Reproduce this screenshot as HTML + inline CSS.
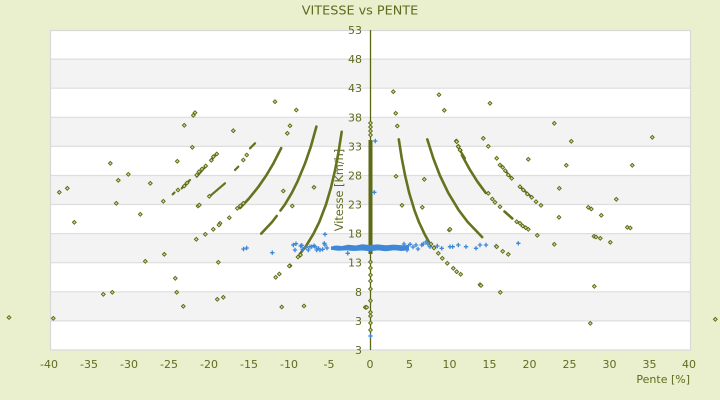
<!DOCTYPE html>
<html><head><meta charset="utf-8"><style>
html,body{margin:0;padding:0;background:#eaf0cd;}
svg{display:block;font-family:"DejaVu Sans","Liberation Sans",sans-serif;}
</style></head><body>
<svg width="720" height="400" viewBox="0 0 720 400" xmlns="http://www.w3.org/2000/svg">
<defs>
<marker id="d" markerUnits="userSpaceOnUse" markerWidth="8" markerHeight="8" refX="4" refY="4" overflow="visible"><path d="M4 2.1L5.9 4 4 5.9 2.1 4Z" fill="#d2d88e" stroke="#5a6614" stroke-width="0.9"/></marker>
<marker id="b" markerUnits="userSpaceOnUse" markerWidth="8" markerHeight="8" refX="4" refY="4" overflow="visible"><path d="M4 1.8V6.2M1.8 4H6.2" stroke="#3f88d8" stroke-width="1.3" fill="none"/></marker>
</defs>
<rect width="720" height="400" fill="#eaf0cd"/>
<text x="360" y="14.5" font-size="12.8" fill="#5c6b1e" text-anchor="middle">VITESSE vs PENTE</text>
<rect x="51" y="30" width="639" height="320" fill="#ffffff"/>
<g fill="#f3f3f3">
<rect x="51" y="59.1" width="639" height="29.1"/>
<rect x="51" y="117.3" width="639" height="29.1"/>
<rect x="51" y="175.5" width="639" height="29"/>
<rect x="51" y="233.6" width="639" height="29.1"/>
<rect x="51" y="291.8" width="639" height="29.1"/>
</g>
<g stroke="#dedede" stroke-width="1.2">
<line x1="51" y1="59.1" x2="690" y2="59.1"/><line x1="51" y1="88.2" x2="690" y2="88.2"/>
<line x1="51" y1="117.3" x2="690" y2="117.3"/><line x1="51" y1="146.4" x2="690" y2="146.4"/>
<line x1="51" y1="175.5" x2="690" y2="175.5"/><line x1="51" y1="204.5" x2="690" y2="204.5"/>
<line x1="51" y1="233.6" x2="690" y2="233.6"/><line x1="51" y1="262.7" x2="690" y2="262.7"/>
<line x1="51" y1="291.8" x2="690" y2="291.8"/><line x1="51" y1="320.9" x2="690" y2="320.9"/>
</g>
<rect x="50.5" y="30.5" width="640" height="319.5" fill="none" stroke="#d8d8d8" stroke-width="1.2"/>

<g font-size="11" fill="#5c6b1e" text-anchor="end">
<text x="362" y="34">53</text><text x="362" y="63.1">48</text><text x="362" y="92.2">43</text>
<text x="362" y="121.3">38</text><text x="362" y="150.4">33</text><text x="362" y="179.5">28</text>
<text x="362" y="208.5">23</text><text x="362" y="237.6">18</text><text x="362" y="266.7">13</text>
<text x="362" y="295.8">8</text><text x="362" y="324.9">3</text><text x="362" y="354">3</text>
</g>
<text transform="translate(343,190) rotate(-90)" font-size="11.3" fill="#5c6b1e" text-anchor="middle">Vitesse [Km/h]</text>

<g font-size="11" fill="#5c6b1e" text-anchor="middle">
<text x="49" y="368">-40</text><text x="89" y="368">-35</text><text x="129" y="368">-30</text>
<text x="169" y="368">-25</text><text x="209" y="368">-20</text><text x="249" y="368">-15</text>
<text x="289" y="368">-10</text><text x="329" y="368">-5</text><text x="370" y="368">0</text>
<text x="409.5" y="368">5</text><text x="449.5" y="368">10</text><text x="489.5" y="368">15</text>
<text x="529.5" y="368">20</text><text x="569.5" y="368">25</text><text x="609.5" y="368">30</text>
<text x="649.5" y="368">35</text><text x="689" y="368">40</text>
</g>
<text x="690" y="383" font-size="11" fill="#5c6b1e" text-anchor="end">Pente [%]</text>

<line x1="370.5" y1="30" x2="370.5" y2="350" stroke="#5a6614" stroke-width="1.3"/>

<g fill="none" stroke="#66721e" stroke-width="2.6" stroke-linejoin="round" stroke-linecap="round">
<polyline points="398.8,139.4 401.7,158 405.1,175.5 409.2,192.9 414.5,210.4 418.9,222 424.3,233.6 428.8,241.8"/>
<polyline points="427.3,139.4 433.2,158 439.9,175.5 448.3,192.9 458.9,210.4 467.7,222 482.2,237.1"/>
<polyline points="461.9,155.1 469.8,169.6 477.2,181.3 485.7,192.9"/>
<polyline points="504.5,211.5 512.3,218.5"/>
<polyline points="341.7,131.8 338.5,152.2 335.2,169.6 331.1,187.1 326,204.5 319.3,222 313.6,233.6 306.5,245.3 299.9,254"/>
<polyline points="316.4,126.6 310.9,146.4 304.9,163.8 297.6,181.3 291.8,192.9 284.9,204.5 280.5,210.5"/>
<polyline points="276.7,216 272.1,222 261.2,233.6"/>
<polyline points="281.2,148.1 273.2,163.8 266.2,175.5 258.2,187.1 248.8,198.7 240.1,208"/>
</g>
<g fill="none" stroke="#66721e" stroke-width="2.2" stroke-linecap="round">
<line x1="255" y1="143.3" x2="250" y2="148.3"/>
<line x1="238.3" y1="166.7" x2="235" y2="170"/>
<line x1="225" y1="183.3" x2="209.3" y2="196.7"/>
<line x1="172.7" y1="194.3" x2="174.5" y2="192.5"/>
<line x1="181.7" y1="188.3" x2="190" y2="180"/>
<line x1="196.7" y1="176.7" x2="206" y2="166"/>
<line x1="211" y1="160.7" x2="216.7" y2="153.3"/>
<line x1="505.3" y1="170.7" x2="511.7" y2="178.3"/>
<line x1="520" y1="186.7" x2="531.7" y2="197.3"/>
<line x1="465" y1="158.3" x2="461" y2="152"/>
</g>

<rect x="368.5" y="140" width="4" height="114" fill="#5e6a16"/>

<path d="M331 246.5 L336 245.5 L342 246 L348 244.8 L356 245.5 L362 244.3 L370 245 L378 244.4 L386 245.3 L394 244.6 L402 245.3 L409 245 L409 250 L402 251 L394 250.3 L386 251.2 L378 250.4 L370 251.3 L362 250.5 L354 251 L346 250.4 L338 250.8 L331 249.8Z" fill="#3f88d8"/>
<polyline fill="none" stroke="none" marker-start="url(#b)" marker-mid="url(#b)" marker-end="url(#b)" points="375.3,141 374.3,192.3 404,244 407,250 410,244.3 413,247 416,245 418,249 421.7,245 423.3,244 426,242 428,244 430,246.7 434,247.3 437.3,246 441.7,248.3 450,246.7 452.7,246.7 458.3,245 466,246.7 476,248.3 480,245 486,245 496,246 518.3,243.3 293.3,245 295,250 300.7,246 302.7,249.3 306,247.3 310,246.7 315,246.7 318.3,248.3 322.7,249.3 325,245 325,234.3 296,243.7 301.7,245.3 308.3,250 311.7,246.7 314,245.7 316.7,250 320,250 324.3,243.3 327,248 246.7,248 243.5,249 272.3,252.7 347.7,253.3 370.5,336"/>

<polyline fill="none" stroke="none" marker-start="url(#d)" marker-mid="url(#d)" marker-end="url(#d)" points="393.3,91.7 395.7,113.3 397.3,126 439,94.7 444.3,110.3 490,103.3 554.3,123.3 571.3,141.3 652.3,137.3 483.3,138.3 488.3,146.3 456.3,141 458.3,146.3 460.3,150.3 528.3,159.3 566.3,165.3 632.3,165.3 396,176.3 424.3,179.3 402,205.3 422.3,207.3 559.3,188.3 616.3,199.3 559,217.3 537.3,235.3 449.3,230 450,229.3 554.3,244.3 496.7,246.7 502.7,251.3 508.3,254.3 438.3,253.3 442.3,258.3 447.3,263.3 453.3,268.3 456.7,271.7 460.7,274.3 480,284.7 481,285.5 500.3,292.3 594.3,286.3 590.3,323.3 715.3,319.3 365.3,307.3 496.7,158.3 500,165 502.7,167.3 505.3,170.7 508.3,175 511.7,178.3 520,186.7 523.3,190 527.3,194 531.7,197.3 536,201.7 541,205.3 588.3,207.3 591.3,209 601.3,215.3 627.3,227.3 630.3,228 456.7,141.7 458.3,146.7 460,150 488.3,193.3 492.3,199 495,202.3 500,206.7 516.7,221.7 520,223.3 522.7,226 525.7,227.7 528.3,229.3 594,236.3 596,237 600.3,238.3 610.3,242.3 431,244 434,248 275,101.7 296.3,110 290,125.7 287.3,133.3 233.3,130.7 195,112.7 193.3,115.3 184.3,125.3 192.3,147.3 177.3,161.3 110.3,163.3 128.3,174.3 118.3,180.3 150.3,183.3 59.3,192.3 67.3,188.3 116.3,203.3 163.3,201.3 140.3,214.3 74.3,222.3 164.3,254.3 145.3,261.3 175.3,278.3 176.7,292.3 103.3,294.3 112.3,292.3 183.3,306.3 53.3,318.3 9,317.5 196.3,239.3 205.3,234.3 213.3,229.3 220,223.3 229.3,217.7 237.3,208.3 240.3,205.8 243.3,203.3 218.3,262.3 217.3,299.3 223.3,297.3 209.3,196.3 198,206 199.3,205 211.3,160.3 219,225 283.3,191 292.3,206 314,187.3 290,265.7 289.3,266 279.3,274 275.7,277.3 281.7,307 304,306 366.7,307.3 246.7,155 243.3,160 196.7,175 199,171.7 202,169 205.7,166 213.3,156.7 216.7,154 184.3,186 187,183 178,190 300.5,255 298,257 370.5,123 370.5,127 370.5,131 370.5,135 370.5,262 370.5,268 370.5,275 370.5,281 370.5,289 370.5,300.7 370.5,312.3 370.5,316 370.5,323 370.5,330"/>
</svg>
</body></html>
